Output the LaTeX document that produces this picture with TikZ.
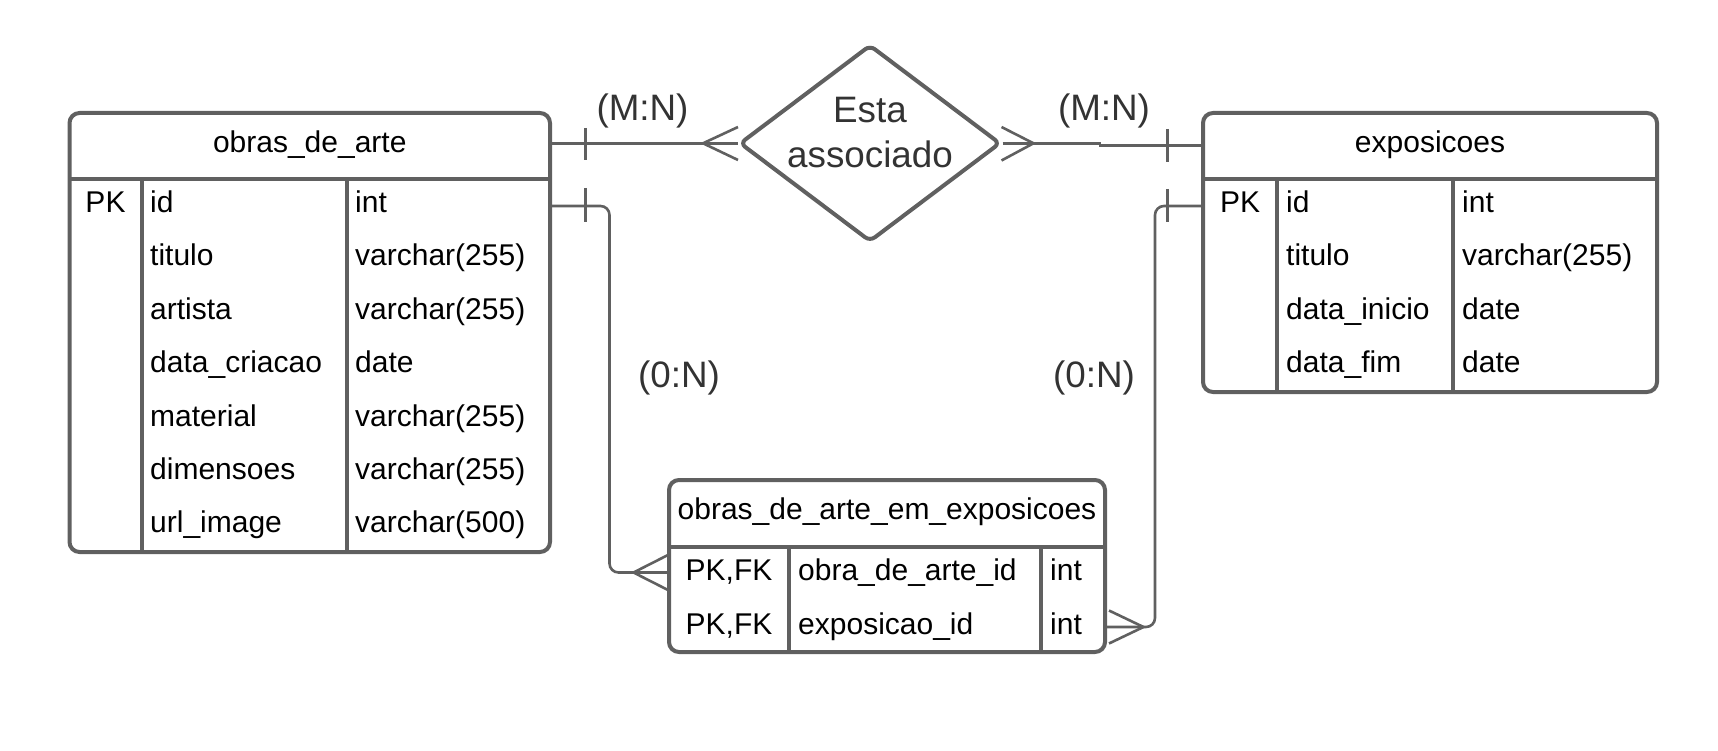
\documentclass[tikz,border=0pt]{standalone}
\usepackage{fontspec}
\setmainfont{Liberation Sans}
\usetikzlibrary{shapes.geometric}
\definecolor{linec}{HTML}{606060}
\definecolor{lblc}{HTML}{333333}
\tikzset{
  tbl/.style={draw=linec, line width=4pt, rounded corners=10pt, rectangle, inner sep=0pt, fill=white},
  inner/.style={draw=linec, line width=4pt},
  conn/.style={draw=linec, line width=2.6pt},
  cell/.style={inner sep=0pt, font=\fontsize{30pt}{36pt}\selectfont, text=black},
  lbl/.style={inner sep=0pt, font=\fontsize{36.8pt}{44pt}\selectfont, text=lblc},
}
\begin{document}
\begin{tikzpicture}[x=1pt,y=-1pt]
\useasboundingbox (0,0) rectangle (1718,751);

% ---------- table 1: obras_de_arte ----------
\node[tbl, minimum width=480.5pt, minimum height=439pt] (t1) at (309.75,332.5) {};
\draw[inner] (69.5,179) -- (550,179);
\draw[inner] (141.5,179) -- (141.5,552);
\draw[inner] (347,179) -- (347,552);
\node[cell, anchor=base] (t1h) at (309.75,152.5) {obras\_de\_arte};
\node[cell, anchor=base] (t1pk) at (105.5,212.5) {PK};
\foreach \n/\t [count=\i from 0] in {id/int, titulo/varchar(255), artista/varchar(255), data\_criacao/date, material/varchar(255), dimensoes/varchar(255), url\_image/varchar(500)} {
  \node[cell, anchor=base west] (t1n\i) at (150,212.5+53.4*\i) {\n};
  \node[cell, anchor=base west] (t1t\i) at (355,212.5+53.4*\i) {\t};
}

% ---------- table 2: exposicoes ----------
\node[tbl, minimum width=454pt, minimum height=279pt] (t2) at (1430,252.5) {};
\draw[inner] (1203,179) -- (1657,179);
\draw[inner] (1277,179) -- (1277,392);
\draw[inner] (1453,179) -- (1453,392);
\node[cell, anchor=base] (t2h) at (1430,152.5) {exposicoes};
\node[cell, anchor=base] (t2pk) at (1240,212.5) {PK};
\foreach \n/\t [count=\i from 0] in {id/int, titulo/varchar(255), data\_inicio/date, data\_fim/date} {
  \node[cell, anchor=base west] (t2n\i) at (1286,212.5+53.4*\i) {\n};
  \node[cell, anchor=base west] (t2t\i) at (1462,212.5+53.4*\i) {\t};
}

% ---------- table 3: obras_de_arte_em_exposicoes ----------
\node[tbl, minimum width=436pt, minimum height=172pt] (t3) at (887,566) {};
\draw[inner] (669,547) -- (1105,547);
\draw[inner] (789,547) -- (789,652);
\draw[inner] (1041,547) -- (1041,652);
\node[cell, anchor=base] (t3h) at (887,519.5) {obras\_de\_arte\_em\_exposicoes};
\node[cell, anchor=base] (t3pk0) at (729,580.5) {PK,FK};
\node[cell, anchor=base] (t3pk1) at (729,634) {PK,FK};
\node[cell, anchor=base west] (t3n0) at (798,580.5) {obra\_de\_arte\_id};
\node[cell, anchor=base west] (t3n1) at (798,634) {exposicao\_id};
\node[cell, anchor=base west] (t3t0) at (1050,580.5) {int};
\node[cell, anchor=base west] (t3t1) at (1050,634) {int};

% ---------- relationship diamond ----------
\node[diamond, draw=linec, line width=4pt, minimum width=261pt, minimum height=197pt, inner sep=0pt, rounded corners=6pt] (d) at (870,143.3) {};
\node[lbl, anchor=base] (dl1) at (870,123) {Esta};
\node[lbl, anchor=base] (dl2) at (870,167.5) {associado};

% ---------- connector coordinates ----------
\coordinate (c1) at (1100,143.3);
\coordinate (c2) at (1100,145.5);
\coordinate (t1a) at (550,206);
\coordinate (t2a) at (1203,206);
\coordinate (t3a) at (668,572.5);
\coordinate (t3b) at (1105,627);

% upper left: obras_de_arte -- diamond
\draw[conn] (t1.east |- d.west) -- (d.west);
\draw[conn] (585.7,128) -- (585.7,160);
\draw[conn] (738,127) -- (703,143.3) -- (738,160);

% upper right: diamond -- exposicoes
\draw[conn] (d.east) -- (c1) -- (c2) -- (t2.west |- c2);
\draw[conn] (1167.7,129) -- (1167.7,162);
\draw[conn] (1001.5,127) -- (1033.5,143.3) -- (1001.5,160.5);

% lower left: obras_de_arte -- junction table
\draw[conn, rounded corners=9pt] (t1a) -- (609.5,206) -- (609.5,572.5) -- (t3a);
\draw[conn] (585.7,188) -- (585.7,222);
\draw[conn] (668,555) -- (633.5,572.5) -- (668,590);

% lower right: exposicoes -- junction table
\draw[conn, rounded corners=9pt] (t2a) -- (1155,206) -- (1155,627) -- (t3b);
\draw[conn] (1167.7,189) -- (1167.7,222);
\draw[conn] (1109,610.5) -- (1143.5,627) -- (1109,643.5);

% ---------- cardinality labels ----------
\node[lbl, anchor=base] (m1) at (642.5,121) {(M:N)};
\node[lbl, anchor=base] (m2) at (1104,121) {(M:N)};
\node[lbl, anchor=base] (z1) at (679,387) {(0:N)};
\node[lbl, anchor=base] (z2) at (1094,387) {(0:N)};
\end{tikzpicture}
\end{document}
